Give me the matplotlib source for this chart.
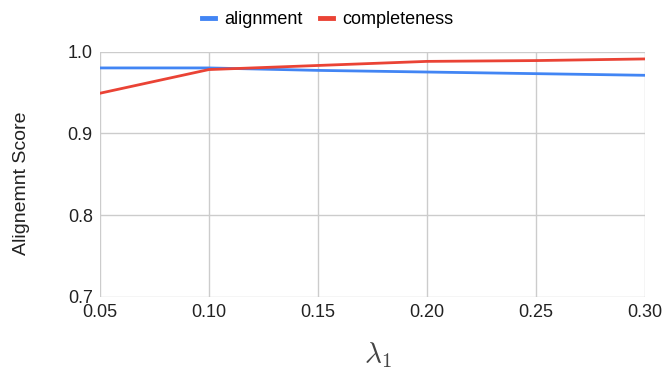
import matplotlib

matplotlib.use('Agg')
import matplotlib.pyplot as plt

# Dane
lambdas = [0.05, 0.10, 0.15, 0.20, 0.25, 0.30]
alignment = [0.980, 0.980, 0.977, 0.975, 0.973, 0.971]
completeness = [0.949, 0.978, 0.983, 0.988, 0.989, 0.991]
x_ticks = [0.05, 0.10, 0.15, 0.20, 0.25, 0.30]
y_ticks = [0.7, 0.8, 0.9, 1.0]

plt.rcParams['font.family'] = ['Liberation Sans', 'DejaVu Sans']
plt.rcParams['mathtext.fontset'] = 'cm'

fig = plt.figure(figsize=(6.65, 3.71), dpi=100)
ax = fig.add_axes([0.15, 0.1995, 0.82, 0.6615])

ax.plot(lambdas, alignment, color='#4285F4', linewidth=2, label='alignment')
ax.plot(lambdas, completeness, color='#EA4335', linewidth=2, label='completeness')

ax.set_xlim(0.05, 0.30)
ax.set_ylim(0.7, 1.0)
ax.set_xticks(x_ticks)
ax.set_xticklabels([f'{t:.2f}' for t in x_ticks])
ax.set_yticks(y_ticks)
ax.set_yticklabels([f'{t:.1f}' for t in y_ticks])
ax.tick_params(length=0, labelsize=13, colors='#222222', pad=5)
ax.grid(True, color='#cccccc', linewidth=1)
ax.set_axisbelow(True)
for s in ax.spines.values():
    s.set_visible(False)

ax.set_ylabel('Alignemnt Score', fontsize=14, color='#222222')
ax.yaxis.set_label_coords(-0.128, 0.462)
ax.set_xlabel(r'$\lambda_1$', fontsize=21, color='#444444')
ax.xaxis.set_label_coords(0.51, -0.175)

ax.legend(loc='center', bbox_to_anchor=(0.418, 1.13), ncol=2, frameon=False,
          fontsize=13, handlelength=0.7, handletextpad=0.5, columnspacing=1.0)
leg = ax.get_legend()
for line in leg.get_lines():
    line.set_linewidth(3.5)

fig.savefig('out.png', dpi=100)
plt.close(fig)
